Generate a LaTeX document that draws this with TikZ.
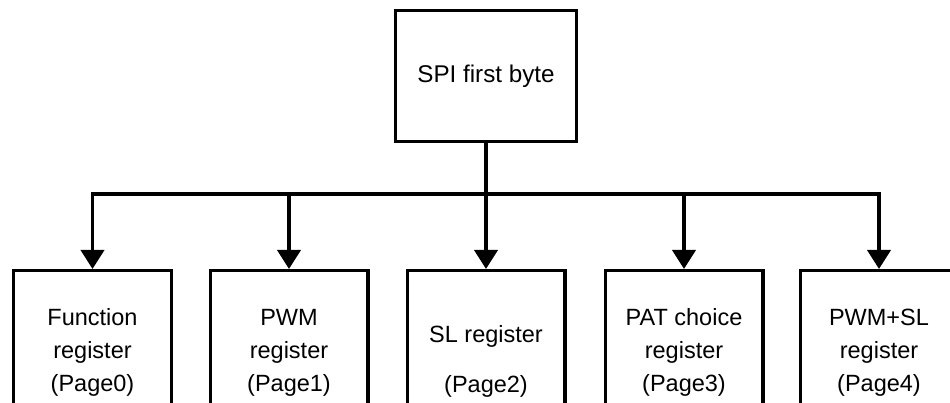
\documentclass[tikz,border=0pt]{standalone}
\usepackage{fontspec}
\setmainfont{Liberation Sans}
\usetikzlibrary{arrows.meta}

\begin{document}
\begin{tikzpicture}[x=1pt, y=-1pt,
        every node/.style={draw, line width=3.3pt, align=center, inner sep=0pt},
        regbox/.style={anchor=north, minimum width=157.7pt, minimum height=163.7pt, font=\fontsize{23.5}{33}\selectfont},
        feed/.style={line width=3.8pt, -{Triangle[width=23pt,length=19pt]}}]
        \useasboundingbox (0,0) rectangle (950,403);
        \clip (0,0) rectangle (950,403);

        \node[minimum width=180.7pt, minimum height=130.7pt, font=\fontsize{24.2}{28}\selectfont] (spi) at (486,76) {SPI first byte};

        % register pages, cut off at the bottom edge
        \node[regbox] (r0) at (92.5,269) {Function\\register\\(Page0)};
        \node[regbox] (r1) at (289,269) {PWM\\register\\(Page1)};
        \node[regbox, minimum height=181.7pt] (r2) at (486,269) {SL register\\[17pt](Page2)};
        \node[regbox] (r3) at (684,269) {PAT choice\\register\\(Page3)};
        \node[regbox] (r4) at (879,269) {PWM+SL\\register\\(Page4)};

        \coordinate (hub) at (486,194);

        \draw[line width=3.8pt] (spi) -- (hub);
        \draw[feed] (hub) -| (r0);
        \draw[feed] (hub) -| (r1);
        \draw[feed] (hub) -- (r2);
        \draw[feed] (hub) -| (r3);
        \draw[feed] (hub) -| (r4);
    \end{tikzpicture}
\end{document}
